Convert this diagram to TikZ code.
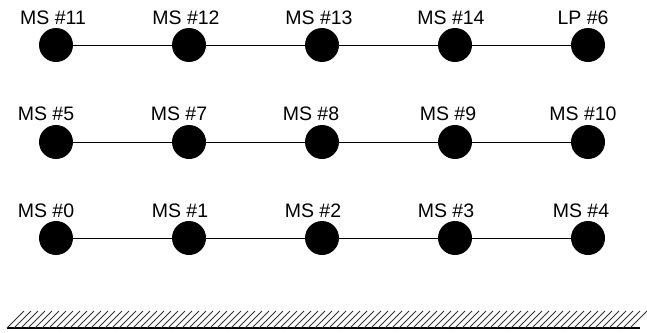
\documentclass[tikz,border=0pt]{standalone}
\usepackage{fontspec}
\setmainfont{Liberation Sans}
\begin{document}
\begin{tikzpicture}[x=1pt,y=-1pt,
  mass/.style={circle,fill=black,inner sep=0pt,minimum size=34pt},
  tag/.style={font=\fontsize{19.5}{21}\selectfont,inner sep=0pt,anchor=base},
  link/.style={line width=1pt}]
\useasboundingbox (0,0) rectangle (647,332);
% three rows of masses
\foreach \r/\yy in {0/45,1/142,2/238}{
  \foreach \c/\xx in {0/56,1/189,2/322,3/455,4/588}{
    \node[mass] (m\r\c) at (\xx,\yy) {};
  }
  \draw[link] (m\r0) -- (m\r1) -- (m\r2) -- (m\r3) -- (m\r4);
}
% labels
\foreach \c/\xx/\t in {0/53/MS \#11,1/186/MS \#12,2/319/MS \#13,3/451/MS \#14,4/583/LP \#6}
  \node[tag] (t0\c) at (\xx,24) {\t};
\foreach \c/\xx/\t in {0/46/MS \#5,1/179/MS \#7,2/311/MS \#8,3/448/MS \#9,4/583/MS \#10}
  \node[tag] (t1\c) at (\xx,120) {\t};
\foreach \c/\xx/\t in {0/46/MS \#0,1/180/MS \#1,2/313/MS \#2,3/446/MS \#3,4/581/MS \#4}
  \node[tag] (t2\c) at (\xx,217) {\t};
% ground with hatching
\draw[line width=1.2pt] (7,328) -- (640,328);
\foreach \h in {7,14,...,630}
  \draw[line width=1pt,black!80] (\h,328) -- (\h+17,311);
\end{tikzpicture}
\end{document}
